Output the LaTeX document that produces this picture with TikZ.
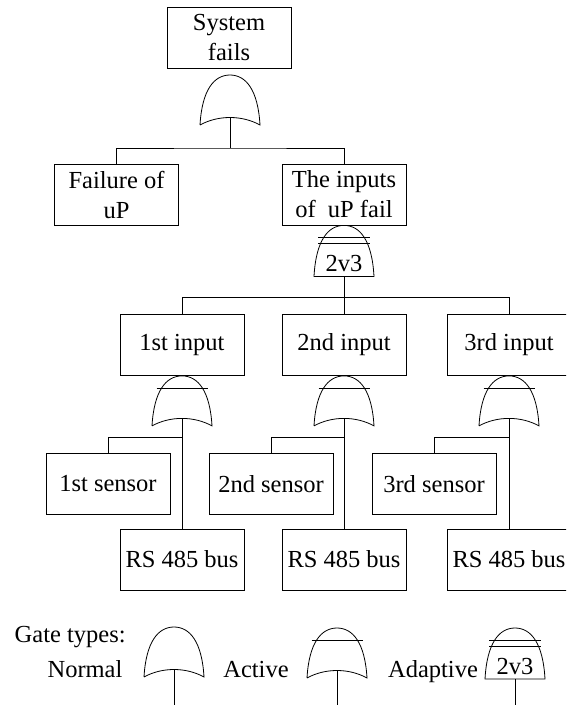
\documentclass[tikz,border=0pt]{standalone}
\usepackage{fontspec}
\setmainfont{Liberation Serif}
\begin{document}
\begin{tikzpicture}[x=1pt,y=-1pt,
  line width=0.8pt,
  every node/.style={font=\fontsize{24.5}{30}\selectfont},
  box/.style={draw, minimum width=124pt, minimum height=61pt, inner sep=0pt, align=center},
  % OR gate: apex at the origin, concave base
  pics/orgate/.style={code={
    \draw (-30,50) .. controls (-28,15) and (-16,0) .. (0,0)
      .. controls (16,0) and (28,15) .. (30,50)
      .. controls (12,40) and (-12,40) .. (-30,50);
    \coordinate (-out) at (0,42.5);}},
  % active OR gate: one bar across the top
  pics/activegate/.style={code={
    \draw (-30,50) .. controls (-28,15) and (-16,0) .. (0,0)
      .. controls (16,0) and (28,15) .. (30,50)
      .. controls (12,40) and (-12,40) .. (-30,50);
    \draw (-25.5,12) -- (25.5,12);
    \coordinate (-out) at (0,42.5);}},
  % adaptive k-out-of-n gate: two bars and a flat base
  pics/adaptgate/.style={code={
    \draw (-30,51) .. controls (-28,15) and (-16,0) .. (0,0)
      .. controls (16,0) and (28,15) .. (30,51) -- cycle;
    \draw (-26,12) -- (26,12);
    \draw (-26,18) -- (26,18);
    \node at (0,38) {2v3};
    \coordinate (-out) at (0,51);}}
]
\clip (0,0) rectangle (566,705);

% ---- top level ----
\node[box] (sys) at (229,38) {System\\fails};
\pic (g0) at (230,75) {orgate};
\node[box] (fail) at (116.5,194.5) {Failure of\\uP};
\node[box] (inp) at (344,194.5) {The inputs\\of~ uP fail};
\coordinate (b0) at (230,148);
\draw (g0-out) -- (b0);
\draw (fail.north) |- (b0) -| (inp.north);

% ---- 2-out-of-3 voting ----
\pic (g1) at (inp.south) {adaptgate};
\node[box] (in1) at (182,345) {1st input};
\node[box] (in2) at (344,345) {2nd input};
\node[box] (in3) at (509,345) {3rd input};
\draw (g1-out) -- (in2.north);
\draw (in1.north) -- ++(0,-17) -| (in3.north);

% ---- sensors and buses ----
\node[box] (s1) at (108,484) {1st sensor};
\node[box] (s2) at (271,484) {2nd sensor};
\node[box] (s3) at (434,484) {3rd sensor};
\node[box] (rs1) at (182,559.5) {RS 485 bus};
\node[box] (rs2) at (344,559.5) {RS 485 bus};
\node[box] (rs3) at (509,559.5) {RS 485 bus};

\pic (ga1) at (in1.south) {activegate};
\pic (ga2) at (in2.south) {activegate};
\pic (ga3) at (in3.south) {activegate};
\coordinate (j1) at (182,437);
\coordinate (j2) at (344,437);
\coordinate (j3) at (509,437);
\draw (ga1-out) -- (rs1.north);
\draw (ga2-out) -- (rs2.north);
\draw (ga3-out) -- (rs3.north);
\draw (s1.north) |- (j1);
\draw (s2.north) |- (j2);
\draw (s3.north) |- (j3);

% ---- legend ----
\node[anchor=base west] (lgt) at (11,642) {Gate types:};
\node[anchor=base] (lgn) at (85,677) {Normal};
\node[anchor=base] (lga) at (256,677) {Active};
\node[anchor=base] (lgd) at (433,677) {Adaptive};
\pic (lg1) at (174,627) {orgate};
\pic (lg2) at (337,628) {activegate};
\pic (lg3) at (515,628) {adaptgate};
\coordinate (e1) at (174,708);
\coordinate (e2) at (337,708);
\coordinate (e3) at (515,708);
\draw (lg1-out) -- (e1);
\draw (lg2-out) -- (e2);
\draw (lg3-out) -- (e3);
\end{tikzpicture}
\end{document}
